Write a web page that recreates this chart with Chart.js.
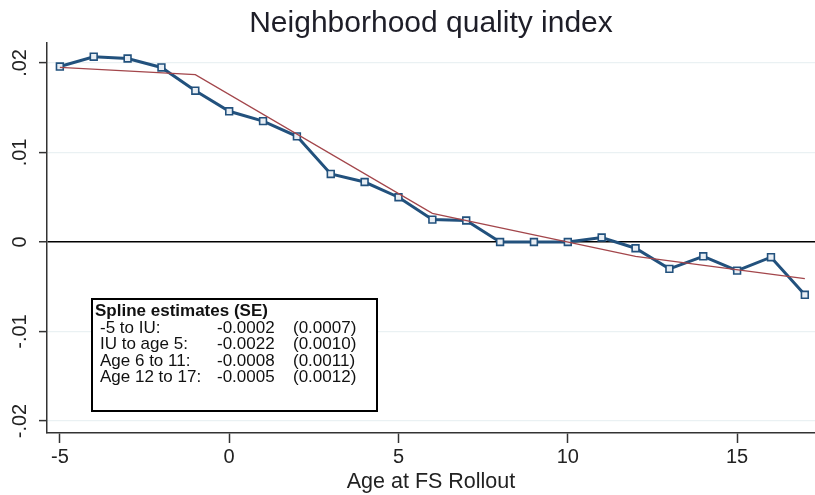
<!DOCTYPE html>
<html>
<head>
<meta charset="utf-8">
<script src="https://cdn.jsdelivr.net/npm/chart.js@4/dist/chart.umd.min.js"></script>
<style>
  html, body { margin: 0; padding: 0; background: #ffffff; }
  #wrap { width: 815px; height: 495px; }
</style>
</head>
<body>
<div id="wrap"><canvas id="c" width="815" height="495"></canvas></div>
<script>
// Event-study estimates by age at Food Stamp rollout
const ages = [-5, -4, -3, -2, -1, 0, 1, 2, 3, 4, 5, 6, 7, 8, 9, 10, 11, 12, 13, 14, 15, 16, 17];
const estimates = [0.0196, 0.0207, 0.0205, 0.0195, 0.0169, 0.0146, 0.0135, 0.0118, 0.0076, 0.0067, 0.0050,
                   0.0025, 0.0024, 0.0000, 0.0000, 0.0000, 0.0005, -0.0007, -0.0030, -0.0016, -0.0032, -0.0017, -0.0059];

// Linear spline fit: knots and fitted values
const splineKnots = [-5, -1, 6, 12, 17];
const splineFit = [0.0195, 0.0187, 0.0032, -0.0016, -0.0041];

// Spline slope table
const splineLabels = ["-5 to IU:", "IU to age 5:", "Age 6 to 11:", "Age 12 to 17:"];
const splineSlopes = ["-0.0002", "-0.0022", "-0.0008", "-0.0005"];
const splineSE = ["(0.0007)", "(0.0010)", "(0.0011)", "(0.0012)"];

const xTicks = [-5, 0, 5, 10, 15];
const yTicks = [0.02, 0.01, 0, -0.01, -0.02];
const yTickLabels = [".02", ".01", "0", "-.01", "-.02"];

const NAVY = "#22517d";
const MAROON = "#a3464b";
const SANS = '"Liberation Sans", Arial, sans-serif';

const overlay = {
  id: "overlay",
  afterDraw(chart) {
    const ctx = chart.ctx;
    const area = chart.chartArea;
    const ys = chart.scales.y;
    ctx.save();
    // title
    ctx.fillStyle = "#1e1e28";
    ctx.font = "30px " + SANS;
    ctx.textAlign = "center";
    ctx.textBaseline = "alphabetic";
    ctx.fillText("Neighborhood quality index", (area.left + area.right) / 2, 32);

    // rotated y tick labels
    ctx.fillStyle = "#222";
    ctx.font = "20px " + SANS;
    yTicks.forEach((v, i) => {
      const py = ys.getPixelForValue(v);
      ctx.save();
      ctx.translate(20.5, py);
      ctx.rotate(-Math.PI / 2);
      ctx.textAlign = "center";
      ctx.textBaseline = "middle";
      ctx.fillText(yTickLabels[i], 0, 0);
      ctx.restore();
    });

    // spline estimates box
    const bx = 92, by = 299, bw = 285, bh = 112;
    ctx.fillStyle = "#fff";
    ctx.fillRect(bx, by, bw, bh);
    ctx.strokeStyle = "#000";
    ctx.lineWidth = 2;
    ctx.strokeRect(bx, by, bw, bh);
    ctx.fillStyle = "#111";
    ctx.textAlign = "left";
    ctx.textBaseline = "alphabetic";
    ctx.font = "bold 17px " + SANS;
    ctx.fillText("Spline estimates (SE)", 95, 316);
    ctx.font = "17px " + SANS;
    splineLabels.forEach((lab, i) => {
      const yy = 333 + i * 16.3;
      ctx.fillText(lab, 100, yy);
      ctx.fillText(splineSlopes[i], 217, yy);
      ctx.fillText(splineSE[i], 293, yy);
    });
    ctx.restore();
  }
};

new Chart(document.getElementById("c"), {
  type: "line",
  data: {
    datasets: [
      {
        label: "Spline fit",
        data: splineKnots.map((x, i) => ({ x: x, y: splineFit[i] })),
        borderColor: MAROON,
        borderWidth: 1.3,
        pointRadius: 0,
        tension: 0,
        order: 0
      },
      {
        label: "Estimate",
        data: ages.map((x, i) => ({ x: x, y: estimates[i] })),
        borderColor: NAVY,
        borderWidth: 3,
        pointStyle: "rect",
        pointRadius: 4.8,
        pointBorderWidth: 1.6,
        pointBackgroundColor: "#e8eef4",
        pointBorderColor: NAVY,
        tension: 0,
        order: 1
      }
    ]
  },
  options: {
    responsive: false,
    animation: false,
    layout: { autoPadding: false, padding: { top: 43, right: 0, left: 0, bottom: 0 } },
    plugins: { legend: { display: false }, tooltip: { enabled: false }, title: { display: false } },
    scales: {
      x: {
        type: "linear",
        min: -5.38,
        max: 17.3,
        afterBuildTicks: (s) => { s.ticks = xTicks.map(v => ({ value: v })); },
        afterFit: (s) => { s.height = 62; },
        border: { color: "#333", width: 1.5 },
        grid: { drawOnChartArea: false, tickLength: 10, tickColor: "#333", tickWidth: 1.5 },
        ticks: { color: "#222", font: { family: SANS, size: 20 }, padding: 2, maxRotation: 0 },
        title: { display: true, text: "Age at FS Rollout", color: "#222", font: { family: SANS, size: 21.5 }, padding: { top: 0, bottom: 0 } }
      },
      y: {
        type: "linear",
        min: -0.02134,
        max: 0.02223,
        afterBuildTicks: (s) => { s.ticks = yTicks.map(v => ({ value: v })); },
        afterFit: (s) => { s.width = 47; },
        border: { color: "#333", width: 1.5 },
        grid: {
          tickLength: 8,
          tickColor: "#333",
          tickWidth: 1.5,
          color: (c) => (c.tick && c.tick.value === 0 ? "#000" : "#eaf1f3"),
          lineWidth: (c) => (c.tick && c.tick.value === 0 ? 1.5 : 1.2)
        },
        ticks: { display: false }
      }
    }
  },
  plugins: [overlay]
});
</script>
</body>
</html>
